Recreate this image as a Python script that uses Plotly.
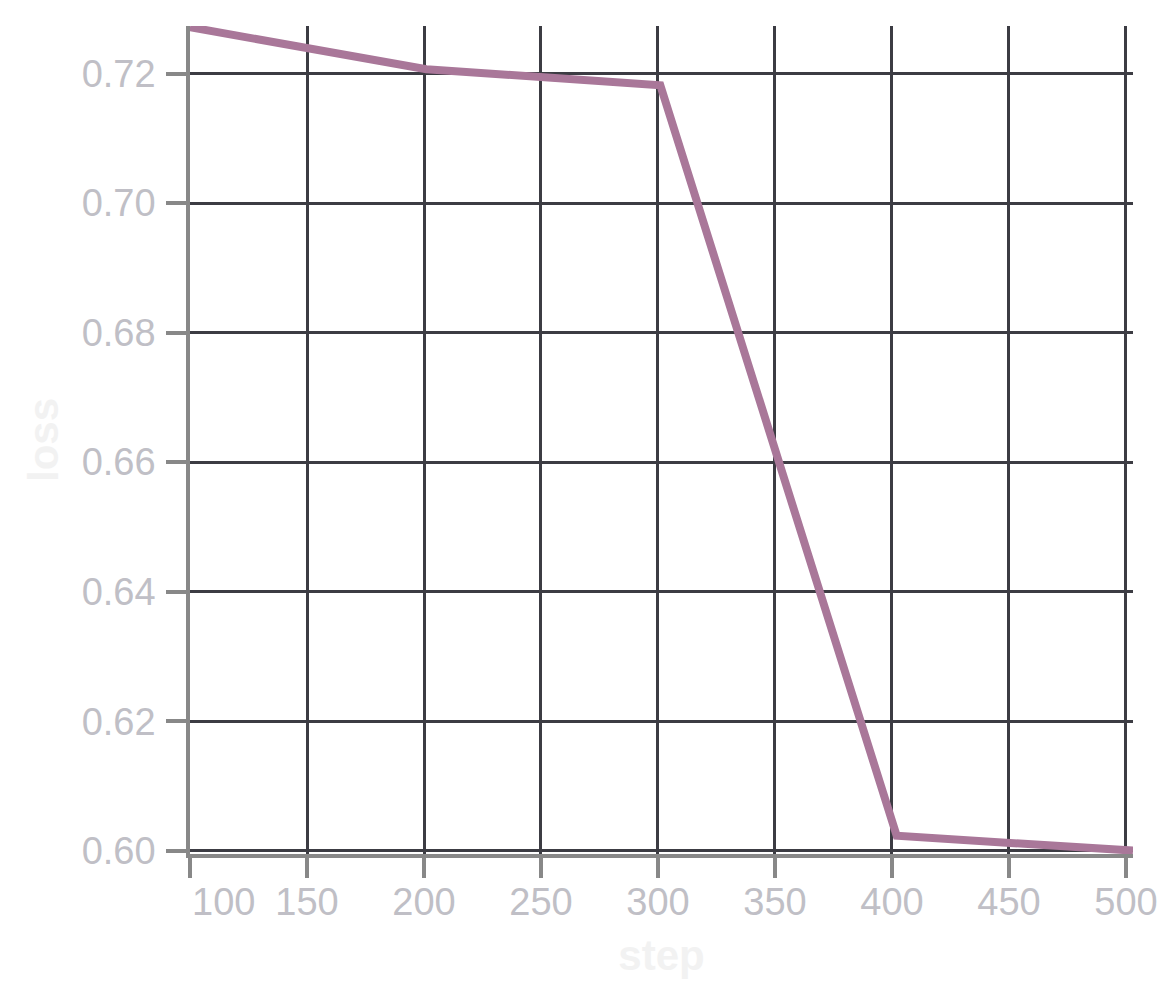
import plotly.graph_objects as go

# eval loss per step
steps = [100, 201, 301, 402, 503]
loss = [0.72716, 0.72067, 0.71819, 0.60232, 0.60002]

x_ticks = [100, 150, 200, 250, 300, 350, 400, 450, 500]
y_ticks = [0.60, 0.62, 0.64, 0.66, 0.68, 0.70, 0.72]

GRID = "#3c3c43"
AXIS = "#888888"
LABEL = "#c0bfc6"
TITLE = "#f2f2f2"
FONT = "Liberation Sans, Arial, sans-serif"

fig = go.Figure()

fig.add_trace(go.Scatter(
    x=steps,
    y=loss,
    mode="lines",
    line=dict(color="#a97799", width=8),
    showlegend=False,
))

# first x label is drawn flush-left against the axis
x_text = [str(v) for v in x_ticks]
x_text[0] = ""

fig.add_annotation(
    x=x_ticks[0], xref="x", xanchor="left",
    y=0, yref="paper", yanchor="top", yshift=-25,
    text=str(x_ticks[0]), showarrow=False,
    font=dict(family=FONT, size=38, color=LABEL),
)

# page body adds ~8px offset, margins compensate
fig.update_layout(
    width=1176,
    height=1000,
    margin=dict(l=182, r=51, t=18, b=154),
    paper_bgcolor="white",
    plot_bgcolor="white",
    font=dict(family=FONT, size=38, color=LABEL),
    xaxis=dict(
        range=[100, 503],
        tickvals=x_ticks,
        ticktext=x_text,
        ticks="outside", ticklen=20, tickwidth=3.5, tickcolor=AXIS,
        showline=True, linecolor=AXIS, linewidth=3.5,
        showgrid=True, gridcolor=GRID, gridwidth=3,
        zeroline=False,
        tickfont=dict(size=38, color=LABEL),
        ticklabelstandoff=-8,
        title=dict(text="<b>step</b>", font=dict(size=42, color=TITLE), standoff=19),
    ),
    yaxis=dict(
        range=[0.5995, 0.72735],
        tickvals=y_ticks,
        tickformat=".2f",
        ticks="outside", ticklen=20, tickwidth=3.5, tickcolor=AXIS,
        showline=True, linecolor=AXIS, linewidth=3.5,
        showgrid=True, gridcolor=GRID, gridwidth=3,
        zeroline=False,
        tickfont=dict(size=38, color=LABEL),
        ticklabelstandoff=3,
        title=dict(text="<b>loss</b>", font=dict(size=42, color=TITLE), standoff=11),
    ),
)

fig.write_html("out.html")
